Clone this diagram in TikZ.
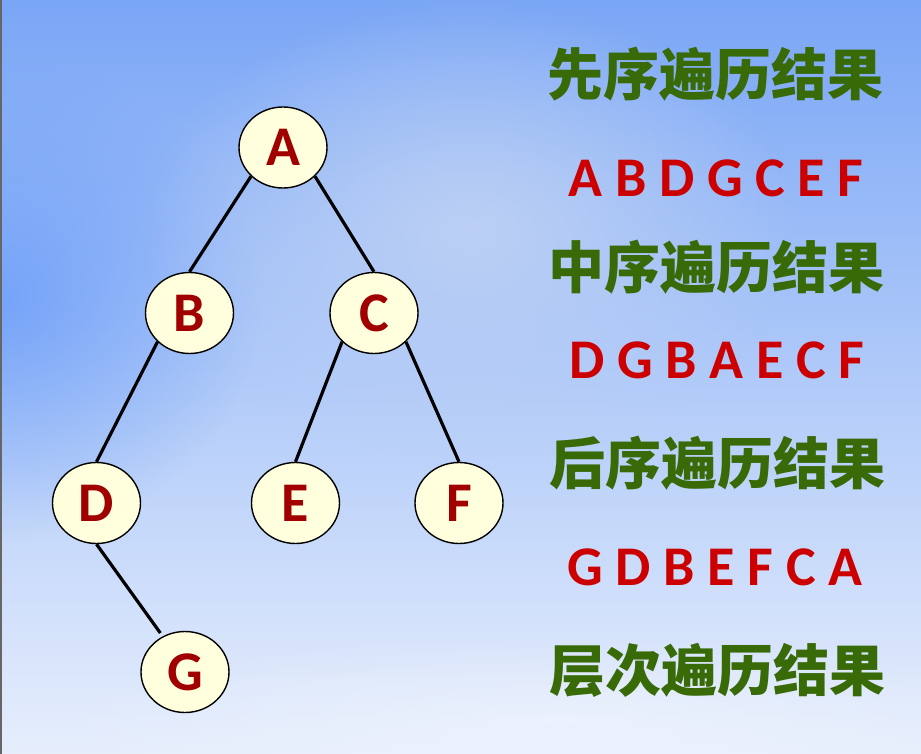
\documentclass[tikz,border=0pt]{standalone}
\usepackage{fontspec}
\setmainfont{Carlito}
\newfontfamily\cjk{Noto Sans CJK SC}
\usetikzlibrary{shapes.geometric,fadings}
\definecolor{bgtop}{HTML}{7AA6F6}
\definecolor{bgmid}{HTML}{A6C2F6}
\definecolor{bgbot}{HTML}{E6EEFC}
\definecolor{glow}{HTML}{BCD0F4}
\definecolor{satblue}{HTML}{6A9CF8}
\definecolor{nodefill}{HTML}{FFFFDD}
\definecolor{letterred}{HTML}{A00000}
\definecolor{seqred}{HTML}{CC0000}
\definecolor{titlegreen}{HTML}{386A08}
\tikzfading[name=glowfade, inner color=transparent!0, outer color=transparent!100]
\tikzset{
  treenode/.style={ellipse, draw=black, line width=1.4pt, fill=nodefill,
    minimum width=88pt, minimum height=81pt, inner sep=0pt,
    text=letterred, font=\bfseries\fontsize{56}{56}\selectfont},
  edge/.style={draw=black, line width=3.2pt},
  title/.style={text=titlegreen, font=\cjk\bfseries\fontsize{56}{56}\selectfont, inner sep=0pt},
  seq/.style={text=seqred, font=\bfseries\fontsize{56}{56}\selectfont, inner sep=0pt}
}
\begin{document}
\begin{tikzpicture}[x=1pt,y=-1pt]
\useasboundingbox (0,0) rectangle (921,754);
\shade[top color=bgtop, middle color=bgmid, bottom color=bgbot] (0,0) rectangle (921,754);
\fill[satblue, opacity=0.8, path fading=glowfade] (0,300) ellipse (260 and 240);
\fill[glow, path fading=glowfade] (470,230) ellipse (330 and 230);
\fill[white, opacity=0.35, path fading=glowfade] (560,720) ellipse (520 and 90);
\fill[gray!80!black] (0,0) rectangle (1.6,754);

\node[treenode] (A) at (283,147.5) {A};
\node[treenode] (B) at (189.5,313) {B};
\node[treenode] (C) at (374,313) {C};
\node[treenode] (D) at (96.5,503) {D};
\node[treenode] (E) at (295.5,503) {E};
\node[treenode] (F) at (459,503) {F};
\node[treenode] (G) at (185,672) {G};

\draw[edge] (A.222) -- (B.north);
\draw[edge] (A.318) -- (C.north);
\draw[edge] (B.222) -- (D.north);
\draw[edge] (C.222) -- (E.north);
\draw[edge] (C.318) -- (F.north);
\draw[edge, shorten >=4pt] (D.south) -- (G.122);

\node[title] (t1) at (715,74.5) {先序遍历结果};
\node[seq] (s1) at (716,178.5) {A B D G C E F};
\node[title] (t2) at (716,267) {中序遍历结果};
\node[seq] (s2) at (717,360) {D G B A E C F};
\node[title] (t3) at (717,463) {后序遍历结果};
\node[seq] (s3) at (715,567) {G D B E F C A};
\node[title] (t4) at (717,670) {层次遍历结果};
\end{tikzpicture}
\end{document}
